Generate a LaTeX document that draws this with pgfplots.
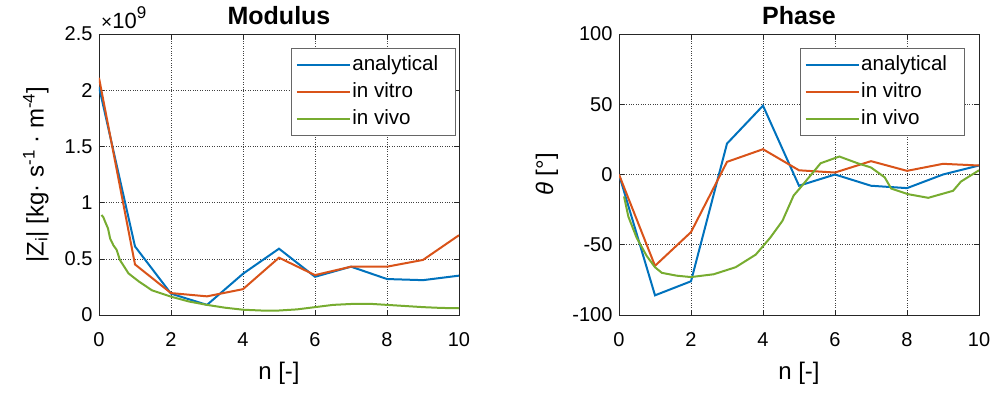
\documentclass[border=0pt]{standalone}
\usepackage{fontspec}
\setmainfont{Liberation Sans}
\usepackage{pgfplots}
\pgfplotsset{compat=1.18}
\definecolor{mblue}{rgb}{0,0.447,0.741}
\definecolor{mred}{rgb}{0.85,0.325,0.098}
\definecolor{mgreen}{rgb}{0.466,0.674,0.188}
\pgfplotsset{
  mstyle/.style={
    scale only axis, width=360pt, height=281pt,
    xmin=0, xmax=10, xtick={0,2,...,10},
    axis line style={black!85, line width=0.6pt},
    tick style={black!85, line width=0.6pt},
    tick align=inside, major tick length=5pt,
    grid=major, major grid style={black!75, dotted, line width=0.6pt},
    tick label style={font=\fontsize{20}{22}\selectfont},
    /pgf/number format/assume math mode=true,
    label style={font=\fontsize{24}{26}\selectfont},
    title style={font=\fontsize{25}{27}\selectfont\bfseries, at={(axis description cs:0.5,1.044)}, anchor=center},
    xlabel={n [-]},
    xlabel style={at={(axis description cs:0.5,-0.206)}, anchor=center},
    every axis plot/.append style={line width=2pt, mark=none},
    legend style={font=\fontsize{20.6}{22}\selectfont, draw=black!60, line width=0.8pt,
      inner xsep=4pt, inner ysep=3pt, row sep=0pt, cells={anchor=west},
      nodes={text height=15pt, text depth=4pt, inner ysep=4pt, inner xsep=1.5pt}},
    legend image code/.code={\draw[#1, line width=2pt] (0pt,0pt) -- (53pt,0pt);},
    xticklabel style={yshift=-14pt},
    yticklabel style={xshift=-3pt},
  }
}
\begin{document}
\begin{tikzpicture}
\path[use as bounding box] (-99pt,-82pt) rectangle (895pt,315pt);
\begin{axis}[mstyle, name=ax1, at={(0pt,0pt)}, anchor=south west,
  ymin=0, ymax=2.5, ytick={0,0.5,1,1.5,2,2.5},
  yticklabels={0,0.5,1,1.5,2,2.5},
  title={Modulus},
  ylabel={|Z\textsubscript{i}| [kg· s\textsuperscript{-1} · m\textsuperscript{-4}]},
  ylabel style={at={(axis description cs:-0.13,0.5)}, anchor=south},
  legend style={at={(0.992,0.95)}, anchor=north east},
]
\addplot[mblue] coordinates {(0,2.03) (1,0.61) (2,0.19) (3,0.09) (4,0.367) (5,0.59) (6,0.34) (7,0.43) (8,0.32) (9,0.31) (10,0.35)};
\addplot[mred] coordinates {(0,2.11) (1,0.45) (2,0.195) (3,0.166) (4,0.23) (5,0.51) (6,0.355) (7,0.43) (8,0.43) (9,0.49) (10,0.71)};
\addplot[mgreen] coordinates {(0.07,0.89) (0.12,0.87) (0.17,0.83) (0.25,0.77) (0.31,0.68) (0.4,0.62) (0.49,0.58) (0.58,0.49) (0.7,0.43) (0.82,0.37) (1.1,0.30) (1.47,0.22) (2.0,0.163) (2.5,0.12) (3,0.09) (3.5,0.065) (4,0.047) (4.5,0.04) (5,0.04) (5.5,0.05) (6,0.07) (6.5,0.09) (7,0.098) (7.5,0.1) (8,0.09) (8.5,0.08) (9,0.07) (9.5,0.063) (10,0.06)};
\legend{analytical\rule{12pt}{0pt}, in vitro, in vivo}
\end{axis}
\node[anchor=base west, font=\fontsize{22}{24}\selectfont, inner sep=0pt] at ([xshift=2pt, yshift=6pt]ax1.north west) {{\fontsize{19}{19}\selectfont ×}10\raisebox{10pt}{\fontsize{17}{17}\selectfont 9}};
\begin{axis}[mstyle, at={(520pt,0pt)}, anchor=south west,
  ymin=-100, ymax=100, ytick={-100,-50,0,50,100},
  title={Phase},
  ylabel={\textit{θ} [°]},
  ylabel style={at={(axis description cs:-0.159,0.5)}, anchor=south},
  legend style={at={(0.961,0.95)}, anchor=north east},
]
\addplot[mblue] coordinates {(0,0) (1,-86) (2,-76) (3,22) (4,49) (5,-8) (6,0) (7,-8) (8,-9.7) (9,0) (10,6.4)};
\addplot[mred] coordinates {(0,0) (1,-65) (2,-41) (3,9) (4,18) (5,3) (6,1.4) (7,9.5) (8,2.6) (9,7.6) (10,6.4)};
\addplot[mgreen] coordinates {(0.14,-15.6) (0.26,-30) (0.49,-45) (0.77,-58) (1.0,-66) (1.19,-70) (1.6,-72) (2.0,-73) (2.63,-71) (3.24,-66) (3.8,-57) (4.2,-45) (4.54,-33) (4.85,-15) (5.05,-9) (5.6,8) (6.12,12.8) (6.63,8) (7.0,5) (7.38,-2) (7.56,-10) (8.03,-14) (8.59,-16.6) (9.28,-11.6) (9.5,-5) (10,3)};
\legend{analytical\rule{12pt}{0pt}, in vitro, in vivo}
\end{axis}
\end{tikzpicture}
\end{document}
